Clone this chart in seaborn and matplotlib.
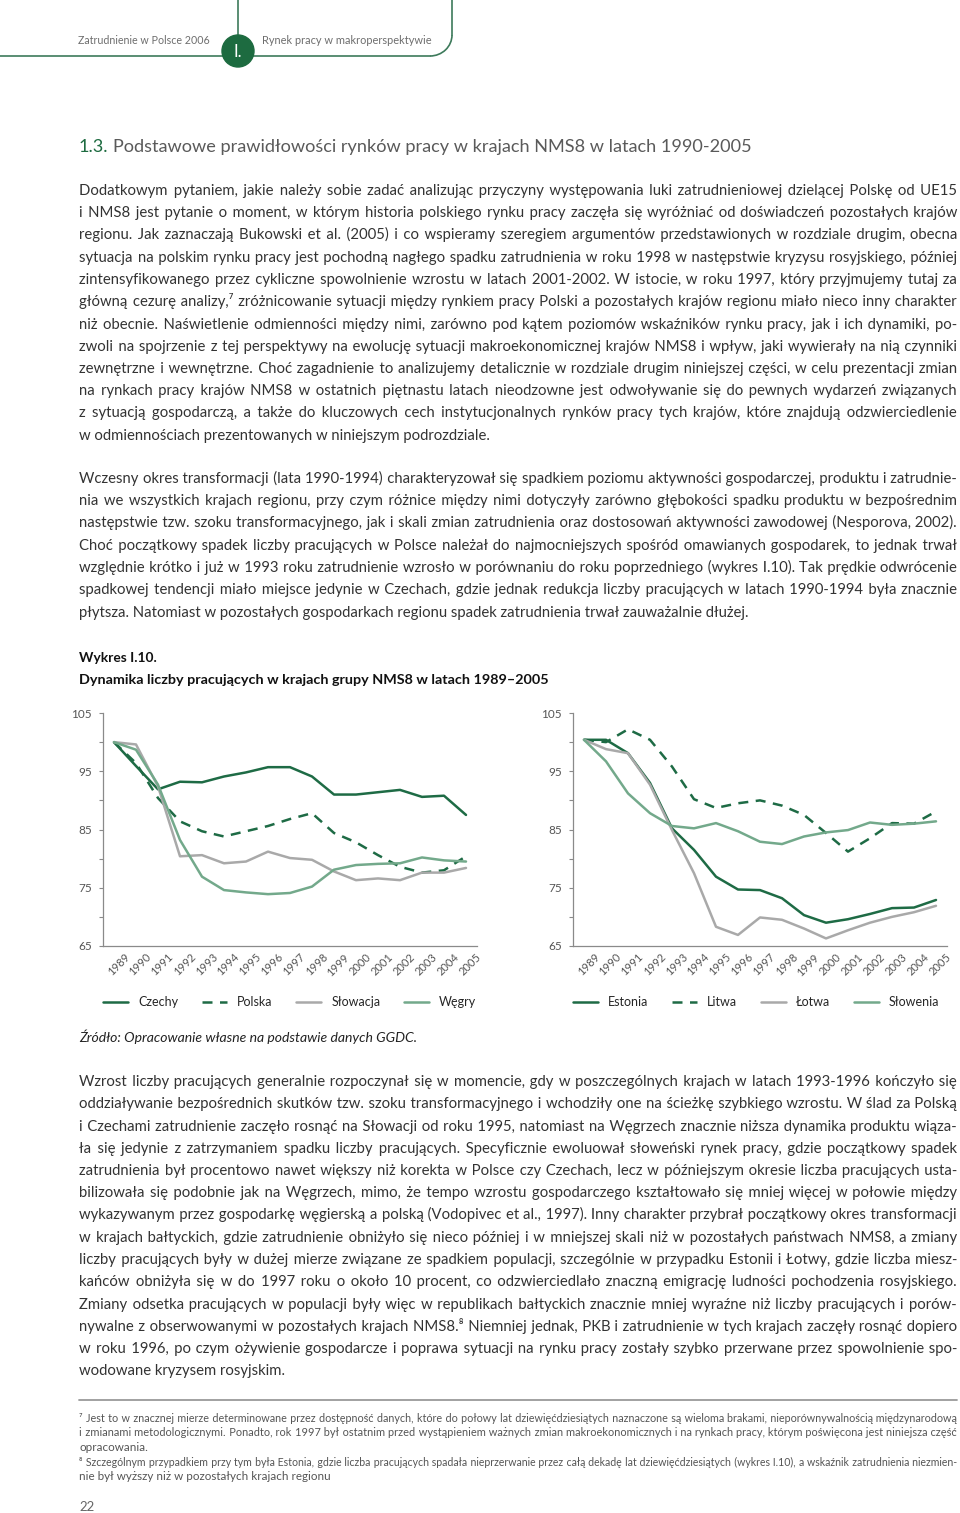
import matplotlib
matplotlib.use("Agg")
import matplotlib.pyplot as plt
import matplotlib.patches as mpatches
from matplotlib import font_manager
from matplotlib.transforms import ScaledTranslation
import numpy as np
import pandas as pd
import seaborn as sns

# ---- data (1989 = 100) ----
years = list(range(1989, 2006))

czechy = [100.0, 95.9, 91.9, 93.2, 93.1, 94.1, 94.8, 95.7, 95.7, 94.1, 91.0, 91.0, 91.4, 91.8, 90.6, 90.8, 87.5]
polska = [100.0, 96.4, 90.4, 86.4, 84.7, 83.8, 84.7, 85.6, 86.8, 87.8, 84.4, 82.8, 80.6, 78.6, 77.6, 78.0, 80.4]
slowacja = [100.0, 99.6, 92.4, 80.4, 80.6, 79.2, 79.5, 81.2, 80.1, 79.8, 77.8, 76.3, 76.6, 76.3, 77.6, 77.6, 78.4]
wegry = [100.0, 98.7, 92.7, 83.2, 76.9, 74.6, 74.2, 73.9, 74.1, 75.2, 78.1, 78.9, 79.1, 79.2, 80.2, 79.7, 79.5]

estonia = [100.4, 100.4, 98.1, 93.0, 85.2, 81.5, 76.9, 74.7, 74.6, 73.2, 70.3, 69.0, 69.6, 70.5, 71.5, 71.6, 72.9]
litwa = [100.4, 100.0, 102.2, 100.4, 95.8, 90.2, 88.7, 89.5, 90.0, 89.1, 87.5, 84.4, 81.2, 83.5, 86.1, 86.0, 88.1]
lotwa = [100.4, 98.8, 98.1, 92.7, 84.9, 77.5, 68.3, 66.9, 69.9, 69.5, 68.0, 66.3, 67.7, 69.0, 70.0, 70.8, 71.9]
slowenia = [100.4, 96.7, 91.2, 87.8, 85.6, 85.2, 86.1, 84.7, 82.9, 82.5, 83.8, 84.5, 84.9, 86.2, 85.8, 86.0, 86.4]

left_names = ["Czechy", "Polska", "Słowacja", "Węgry"]
right_names = ["Estonia", "Litwa", "Łotwa", "Słowenia"]

y_major = [65, 75, 85, 95, 105]
y_minor = [70, 80, 90, 100]

header_left = "Zatrudnienie w Polsce 2006"
header_right = "Rynek pracy w makroperspektywie"
section_no = "1.3."
section_title = "Podstawowe prawidłowości rynków pracy w krajach NMS8 w latach 1990-2005"
chart_no = "Wykres I.10."
chart_title = "Dynamika liczby pracujących w krajach grupy NMS8 w latach 1989–2005"
source = "Źródło: Opracowanie własne na podstawie danych GGDC."

par1 = [
    "Dodatkowym pytaniem, jakie należy sobie zadać analizując przyczyny występowania luki zatrudnieniowej dzielącej Polskę od UE15",
    "i NMS8 jest pytanie o moment, w którym historia polskiego rynku pracy zaczęła się wyróżniać od doświadczeń pozostałych krajów",
    "regionu. Jak zaznaczają Bukowski et al. (2005) i co wspieramy szeregiem argumentów przedstawionych w rozdziale drugim, obecna",
    "sytuacja na polskim rynku pracy jest pochodną nagłego spadku zatrudnienia w roku 1998 w następstwie kryzysu rosyjskiego, później",
    "zintensyfikowanego przez cykliczne spowolnienie wzrostu w latach 2001-2002. W istocie, w roku 1997, który przyjmujemy tutaj za",
    "główną cezurę analizy,⁷ zróżnicowanie sytuacji między rynkiem pracy Polski a pozostałych krajów regionu miało nieco inny charakter",
    "niż obecnie. Naświetlenie odmienności między nimi, zarówno pod kątem poziomów wskaźników rynku pracy, jak i ich dynamiki, po-",
    "zwoli na spojrzenie z tej perspektywy na ewolucję sytuacji makroekonomicznej krajów NMS8 i wpływ, jaki wywierały na nią czynniki",
    "zewnętrzne i wewnętrzne. Choć zagadnienie to analizujemy detalicznie w rozdziale drugim niniejszej części, w celu prezentacji zmian",
    "na rynkach pracy krajów NMS8 w ostatnich piętnastu latach nieodzowne jest odwoływanie się do pewnych wydarzeń związanych",
    "z sytuacją gospodarczą, a także do kluczowych cech instytucjonalnych rynków pracy tych krajów, które znajdują odzwierciedlenie",
    "w odmiennościach prezentowanych w niniejszym podrozdziale.",
]
par2 = [
    "Wczesny okres transformacji (lata 1990-1994) charakteryzował się spadkiem poziomu aktywności gospodarczej, produktu i zatrudnie-",
    "nia we wszystkich krajach regionu, przy czym różnice między nimi dotyczyły zarówno głębokości spadku produktu w bezpośrednim",
    "następstwie tzw. szoku transformacyjnego, jak i skali zmian zatrudnienia oraz dostosowań aktywności zawodowej (Nesporova, 2002).",
    "Choć początkowy spadek liczby pracujących w Polsce należał do najmocniejszych spośród omawianych gospodarek, to jednak trwał",
    "względnie krótko i już w 1993 roku zatrudnienie wzrosło w porównaniu do roku poprzedniego (wykres I.10). Tak prędkie odwrócenie",
    "spadkowej tendencji miało miejsce jedynie w Czechach, gdzie jednak redukcja liczby pracujących w latach 1990-1994 była znacznie",
    "płytsza. Natomiast w pozostałych gospodarkach regionu spadek zatrudnienia trwał zauważalnie dłużej.",
]
par3 = [
    "Wzrost liczby pracujących generalnie rozpoczynał się w momencie, gdy w poszczególnych krajach w latach 1993-1996 kończyło się",
    "oddziaływanie bezpośrednich skutków tzw. szoku transformacyjnego i wchodziły one na ścieżkę szybkiego wzrostu. W ślad za Polską",
    "i Czechami zatrudnienie zaczęło rosnąć na Słowacji od roku 1995, natomiast na Węgrzech znacznie niższa dynamika produktu wiąza-",
    "ła się jedynie z zatrzymaniem spadku liczby pracujących. Specyficznie ewoluował słoweński rynek pracy, gdzie początkowy spadek",
    "zatrudnienia był procentowo nawet większy niż korekta w Polsce czy Czechach, lecz w późniejszym okresie liczba pracujących usta-",
    "bilizowała się podobnie jak na Węgrzech, mimo, że tempo wzrostu gospodarczego kształtowało się mniej więcej w połowie między",
    "wykazywanym przez gospodarkę węgierską a polską (Vodopivec et al., 1997). Inny charakter przybrał początkowy okres transformacji",
    "w krajach bałtyckich, gdzie zatrudnienie obniżyło się nieco później i w mniejszej skali niż w pozostałych państwach NMS8, a zmiany",
    "liczby pracujących były w dużej mierze związane ze spadkiem populacji, szczególnie w przypadku Estonii i Łotwy, gdzie liczba miesz-",
    "kańców obniżyła się w do 1997 roku o około 10 procent, co odzwierciedlało znaczną emigrację ludności pochodzenia rosyjskiego.",
    "Zmiany odsetka pracujących w populacji były więc w republikach bałtyckich znacznie mniej wyraźne niż liczby pracujących i porów-",
    "nywalne z obserwowanymi w pozostałych krajach NMS8.⁸ Niemniej jednak, PKB i zatrudnienie w tych krajach zaczęły rosnąć dopiero",
    "w roku 1996, po czym ożywienie gospodarcze i poprawa sytuacji na rynku pracy zostały szybko przerwane przez spowolnienie spo-",
    "wodowane kryzysem rosyjskim.",
]
footnotes = [
    "⁷ Jest to w znacznej mierze determinowane przez dostępność danych, które do połowy lat dziewięćdziesiątych naznaczone są wieloma brakami, nieporównywalnością międzynarodową",
    "i zmianami metodologicznymi. Ponadto, rok 1997 był ostatnim przed wystąpieniem ważnych zmian makroekonomicznych i na rynkach pracy, którym poświęcona jest niniejsza część",
    "opracowania.",
    "⁸ Szczególnym przypadkiem przy tym była Estonia, gdzie liczba pracujących spadała nieprzerwanie przez całą dekadę lat dziewięćdziesiątych (wykres I.10), a wskaźnik zatrudnienia niezmien-",
    "nie był wyższy niż w pozostałych krajach regionu",
]

# ---- style ----
DARK = "#1e6b45"
MID = "#73a98b"
GREY = "#a9a9a9"
TEXT = "#333333"
palette = {"Czechy": DARK, "Polska": DARK, "Słowacja": GREY, "Węgry": MID,
           "Estonia": DARK, "Litwa": DARK, "Łotwa": GREY, "Słowenia": MID}
dashes = {"Czechy": "", "Polska": (4, 3), "Słowacja": "", "Węgry": "",
          "Estonia": "", "Litwa": (4, 3), "Łotwa": "", "Słowenia": ""}


def has_font(name):
    try:
        font_manager.findfont(font_manager.FontProperties(family=name), fallback_to_default=False)
        return True
    except ValueError:
        return False


BODY = "Lato" if has_font("Lato") else "DejaVu Sans"
NARROW = "Liberation Sans Narrow" if has_font("Liberation Sans Narrow") else BODY
FAM = [BODY, "DejaVu Sans"]
FAM_N = [NARROW, "DejaVu Sans"]
HAIR = "\u200a"

sns.set_theme(style="white")
plt.rcParams["font.family"] = FAM

fig = plt.figure(figsize=(9.6, 15.13), dpi=100)
page = fig.add_axes([0, 0, 1, 1])
page.set_xlim(0, 960)
page.set_ylim(1513, 0)
page.axis("off")
renderer = fig.canvas.get_renderer()


def measure(s, size, **kw):
    t = page.text(0, 0, s, fontsize=size, **kw)
    w = t.get_window_extent(renderer).width
    t.remove()
    return w


def fit(s, width, **kw):
    return 10 * width / measure(s, 10, **kw)


def justified(words, counts):
    out = words[0]
    for w, k in zip(words[1:], counts):
        out += " " + HAIR * k + w
    return out


def put_line(y, s, size, justify=True, x0=79, width=878, **kw):
    if not justify:
        page.text(x0, y, s, fontsize=size, va="baseline", **kw)
        return
    # shrink this line a little if it does not fit with normal spaces
    while measure(s, size, **kw) > width - 1:
        size *= 0.995
    words = s.split(" ")
    n = len(words) - 1
    hw = (measure("x" + HAIR * 20 + "x", size, **kw) - measure("xx", size, **kw)) / 20
    total = max(0, int(round((width - measure(s, size, **kw)) / hw)))
    for _ in range(3):
        counts = [total // n + (1 if i < total % n else 0) for i in range(n)]
        # spread the leftover hair spaces evenly over the line
        counts = sorted(counts, reverse=True)
        order = list(range(0, n, 2)) + list(range(1, n, 2))
        spread = [0] * n
        for c, pos in zip(counts, order):
            spread[pos] = c
        txt = justified(words, spread)
        diff = width - measure(txt, size, **kw)
        if abs(diff) < hw / 2:
            break
        total = max(0, total + int(np.floor(diff / hw)))
    page.text(x0, y, txt, fontsize=size, va="baseline", **kw)


def paragraph(lines, y0, step, size, **kw):
    for i, s in enumerate(lines):
        put_line(y0 + i * step, s, size, justify=(i < len(lines) - 1), **kw)


# ---- header ----
hc = "#3d7a5b"
page.plot([0, 430], [56, 56], color=hc, lw=1.2)
page.add_patch(mpatches.Arc((430, 35), 44, 42, theta1=0, theta2=90, color=hc, lw=1.2))
page.plot([452, 452], [35, 0], color=hc, lw=1.2)
page.plot([238, 238], [0, 40], color=hc, lw=1.2)
page.add_patch(mpatches.Circle((238, 51), 16, color="#1d6b40", zorder=3))
page.text(238, 52, "I.", color="white", fontsize=12, ha="center", va="center", zorder=4, family=FAM)
page.text(210, 44, header_left, fontsize=fit(header_left, 131, family=FAM), color="#6e6e6e",
          ha="right", va="baseline", family=FAM)
page.text(262, 44, header_right, fontsize=fit(header_right, 169, family=FAM), color="#6e6e6e",
          ha="left", va="baseline", family=FAM)

# ---- section title ----
tsize = fit(section_no + " " + section_title, 674, family=FAM)
page.text(79, 152, section_no, fontsize=tsize, color="#1d6b40", va="baseline", family=FAM)
wno = measure(section_no + " ", tsize, family=FAM)
page.text(79 + wno, 152, section_title, fontsize=tsize, color="#5a5a5a", va="baseline", family=FAM)

# ---- body text ----
bsize = 10.7
paragraph(par1, 195, 22.25, bsize, color=TEXT, family=FAM)
paragraph(par2, 483, 22.25, bsize, color=TEXT, family=FAM)
paragraph(par3, 1086, 22.25, bsize, color=TEXT, family=FAM)

# ---- chart caption ----
page.text(79, 662, chart_no, fontsize=fit(chart_no, 78, family=FAM, weight="bold"),
          weight="bold", color="#111111", va="baseline", family=FAM)
page.text(79, 684, chart_title, fontsize=fit(chart_title, 472, family=FAM, weight="bold"),
          weight="bold", color="#111111", va="baseline", family=FAM)
page.text(79, 1042, source, fontsize=fit(source, 339, family=FAM_N, style="italic"),
          style="italic", color="#222222", va="baseline", family=FAM_N)

# ---- footnotes ----
page.plot([79, 957], [1400, 1400], color="#9a9a9a", lw=1.3)
fsize = 8.4
paragraph(footnotes[:3], 1422, 14.5, fsize, color="#555555", family=FAM_N)
paragraph(footnotes[3:], 1466, 14.5, fsize, color="#555555", family=FAM_N)
page.text(79, 1511, "22", fontsize=9.5, color="#666666", va="baseline", family=FAM)


# ---- charts ----
def draw_chart(left_px, names, series):
    ax = fig.add_axes([left_px / 960, 1 - 946 / 1513, 374 / 960, 233 / 1513])
    df = pd.DataFrame({
        "rok": years * len(names),
        "indeks": [v for s in series for v in s],
        "kraj": [n for n in names for _ in years],
    })
    sns.lineplot(data=df, x="rok", y="indeks", hue="kraj", style="kraj",
                 palette={n: palette[n] for n in names},
                 dashes={n: dashes[n] for n in names},
                 linewidth=1.8, ax=ax)
    ax.set_xlim(1988.5, 2005.5)
    ax.set_ylim(65, 105)
    ax.set_xticks(years)
    ax.set_xticks(np.arange(1988.5, 2006, 1), minor=True)
    ax.set_yticks(y_major)
    ax.set_yticks(y_minor, minor=True)
    ax.set_xlabel("")
    ax.set_ylabel("")
    ax.patch.set_alpha(0)
    sns.despine(ax=ax)
    for sp in ax.spines.values():
        sp.set_color("#8a8a8a")
        sp.set_linewidth(0.9)
    ax.tick_params(axis="x", which="major", length=0, pad=4, labelsize=8, labelcolor="#555555",
                   labelrotation=45)
    ax.tick_params(axis="x", which="minor", length=4, width=0.8, color="#8a8a8a", direction="out")
    ax.tick_params(axis="y", which="both", length=3, width=0.8, color="#8a8a8a", direction="out",
                   left=True, pad=5, labelsize=8.5, labelcolor="#555555")
    for lab in ax.get_xticklabels():
        lab.set_ha("right")
        lab.set_rotation_mode("anchor")
        lab.set_transform(lab.get_transform() + ScaledTranslation(7 / 72, 0, fig.dpi_scale_trans))
    sns.move_legend(ax, "center left", bbox_to_anchor=(0.0, -0.24), ncol=4, frameon=False,
                    title=None, fontsize=9, handlelength=2.0, handletextpad=0.8,
                    columnspacing=1.9, borderaxespad=0, borderpad=0)
    return ax


draw_chart(103, left_names, [czechy, polska, slowacja, wegry])
draw_chart(573, right_names, [estonia, litwa, lotwa, slowenia])

fig.savefig("out.png", dpi=100)
